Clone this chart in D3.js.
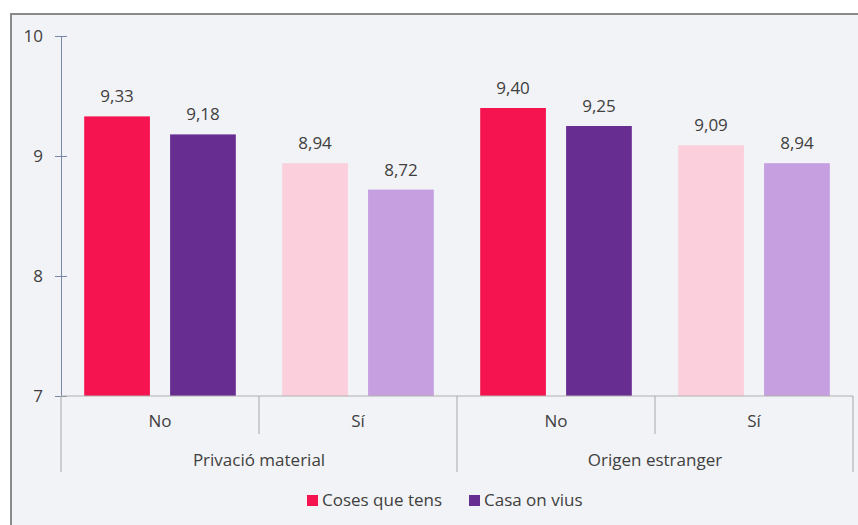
<!DOCTYPE html>
<html>
<head>
<meta charset="utf-8">
<script src="https://cdn.jsdelivr.net/npm/d3@7"></script>
<style>
  body { margin: 0; background: #fff; }
  text { font-family: "Open Sans", "Noto Sans", sans-serif; fill: #404040; }
</style>
</head>
<body>
<svg id="chart" width="858" height="525"></svg>
<script>
// data
var groups = ["Privació material", "Origen estranger"];
var subcats = ["No", "Sí"];
var series = ["Coses que tens", "Casa on vius"];
var cosesQueTens = [9.33, 8.94, 9.40, 9.09];
var casaOnVius = [9.18, 8.72, 9.25, 8.94];
var yTicks = [7, 8, 9, 10];

var svg = d3.select("#chart");

// frame
svg.append("rect")
  .attr("x", 11).attr("y", 14)
  .attr("width", 860).attr("height", 530)
  .attr("fill", "#f2f3f6")
  .attr("stroke", "#8a8a8a")
  .attr("stroke-width", 2);

var plotLeft = 61, plotRight = 853, plotTop = 36, plotBottom = 396;

var y = d3.scaleLinear().domain([7, 10]).range([plotBottom, plotTop]);

// one slot per group/subcategory
var slots = [];
groups.forEach(function(g, gi){
  subcats.forEach(function(s, si){ slots.push({g: g, s: s, i: gi * 2 + si}); });
});
var x0 = d3.scaleBand().domain(slots.map(function(d){ return d.i; })).range([plotLeft, plotRight]);
var x1 = d3.scaleBand().domain([0, 1]).range([0, x0.bandwidth()]).paddingInner(0.235).paddingOuter(0.27);

var colors = [["#f51450", "#682d91"], ["#fbd0dc", "#c59fe0"]];

// y axis
var yAxis = svg.append("g")
  .attr("transform", "translate(" + plotLeft + ",0)")
  .call(d3.axisLeft(y).tickValues(yTicks).tickFormat(d3.format("d")).tickSize(6).tickPadding(12));
yAxis.select(".domain").attr("stroke", "#7788a8");
yAxis.selectAll(".tick line").attr("stroke", "#7788a8").attr("x1", -6).attr("x2", 6);
yAxis.selectAll(".tick text").style("font-size", "17px").attr("fill", "#404040");

// bars
var data = [];
slots.forEach(function(sl){
  data.push({slot: sl, k: 0, v: cosesQueTens[sl.i]});
  data.push({slot: sl, k: 1, v: casaOnVius[sl.i]});
});

svg.selectAll("rect.bar").data(data).enter().append("rect")
  .attr("class", "bar")
  .attr("x", function(d){ return x0(d.slot.i) + x1(d.k); })
  .attr("y", function(d){ return y(d.v); })
  .attr("width", x1.bandwidth())
  .attr("height", function(d){ return plotBottom - y(d.v); })
  .attr("fill", function(d){ return colors[d.slot.i % 2][d.k]; });

svg.selectAll("text.val").data(data).enter().append("text")
  .attr("class", "val")
  .attr("x", function(d){ return x0(d.slot.i) + x1(d.k) + x1.bandwidth() / 2; })
  .attr("y", function(d){ return y(d.v) - 14; })
  .attr("text-anchor", "middle")
  .style("font-size", "17px")
  .text(function(d){ return d3.format(".2f")(d.v).replace(".", ","); });

// x axis line
svg.append("line")
  .attr("x1", plotLeft).attr("x2", plotRight)
  .attr("y1", plotBottom).attr("y2", plotBottom)
  .attr("stroke", "#b0b0b0");

// separators
var bounds = d3.range(0, 5).map(function(i){ return plotLeft + i * x0.bandwidth(); });
svg.selectAll("line.sep").data(bounds).enter().append("line")
  .attr("x1", function(d){ return d; }).attr("x2", function(d){ return d; })
  .attr("y1", plotBottom)
  .attr("y2", function(d, i){ return i % 2 === 0 ? 472 : 434; })
  .attr("stroke", "#a8a8a8");

svg.selectAll("text.sub").data(slots).enter().append("text")
  .attr("x", function(d){ return x0(d.i) + x0.bandwidth() / 2; })
  .attr("y", 427)
  .attr("text-anchor", "middle")
  .style("font-size", "17px")
  .text(function(d){ return d.s; });

svg.selectAll("text.grp").data(groups).enter().append("text")
  .attr("x", function(d, i){ return plotLeft + (i * 2 + 1) * x0.bandwidth(); })
  .attr("y", 466)
  .attr("text-anchor", "middle")
  .style("font-size", "17px")
  .text(function(d){ return d; });

// legend
var legX = [307, 469];
var leg = svg.selectAll("g.leg").data(series).enter().append("g")
  .attr("transform", function(d, i){ return "translate(" + legX[i] + ",495)"; });
leg.append("rect").attr("width", 11).attr("height", 11)
  .attr("fill", function(d, i){ return colors[0][i]; });
leg.append("text").attr("x", 15).attr("y", 11)
  .style("font-size", "17px")
  .text(function(d){ return d; });
</script>
</body>
</html>
